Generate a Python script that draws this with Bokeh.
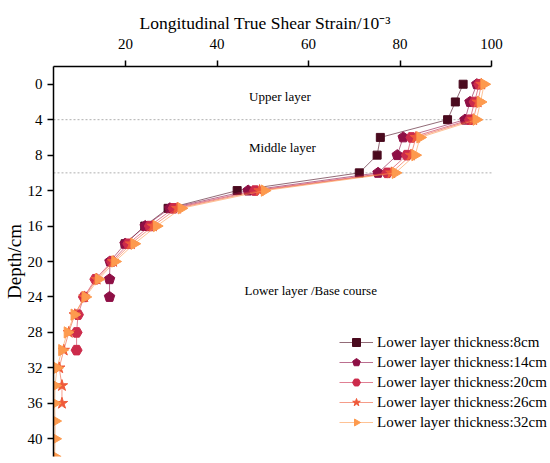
import math
from bokeh.plotting import figure
from bokeh.models import Range1d, FixedTicker, Label, Legend, LegendItem, ColumnDataSource
from bokeh.embed import file_html
from bokeh.resources import INLINE

# ---------------- data ----------------
series_labels = [
    "Lower layer thickness:8cm",
    "Lower layer thickness:14cm",
    "Lower layer thickness:20cm",
    "Lower layer thickness:26cm",
    "Lower layer thickness:32cm",
]
depth_8 = [0, 2, 4, 6, 8, 10, 12, 14, 16, 18]
strain_8 = [93.8, 92.1, 90.4, 75.7, 75.0, 71.1, 44.4, 29.3, 24.2, 19.9]

depth_14 = [0, 2, 4, 6, 8, 10, 12, 14, 16, 18, 20, 22, 24]
strain_14 = [96.8, 95.3, 94.2, 80.7, 79.4, 75.2, 46.8, 29.7, 24.3, 19.9, 16.6, 16.5, 16.5]

depth_20 = [0, 2, 4, 6, 8, 10, 12, 14, 16, 18, 20, 22, 24, 26, 28, 30]
strain_20 = [97.3, 96.3, 95.3, 82.5, 81.5, 77.2, 48.3, 30.5, 25.3, 20.6, 17.0, 13.4, 10.9, 9.6, 9.3, 9.3]

depth_26 = [0, 2, 4, 6, 8, 10, 12, 14, 16, 18, 20, 22, 24, 26, 28, 30, 32, 34, 36]
strain_26 = [97.8, 97.0, 96.0, 83.5, 82.4, 78.1, 49.3, 31.3, 26.0, 21.2, 17.3, 13.7, 11.0,
             8.9, 7.6, 6.5, 5.5, 6.1, 6.1]

depth_32 = [0, 2, 4, 6, 8, 10, 12, 14, 16, 18, 20, 22, 24, 26, 28, 30, 32, 34, 36, 38, 40, 42]
strain_32 = [98.4, 97.6, 96.7, 84.4, 83.3, 79.0, 50.4, 32.2, 26.8, 21.9, 17.7, 14.1, 11.2,
             8.8, 7.3, 6.1, 5.0, 4.6, 4.5, 4.6, 4.6, 4.5]

x_ticks = [20, 40, 60, 80, 100]
y_ticks = [0, 4, 8, 12, 16, 20, 24, 28, 32, 36, 40]
layer_boundaries = [4, 10]
layer_names = ["Upper layer", "Middle layer", "Lower layer /Base course"]

# ---------------- styling ----------------
FONT = "Liberation Serif"
colors = ["#4a0a1e", "#8e0f45", "#cc2b4b", "#ef5a3a", "#fd9a4e"]
X_MIN, X_MAX_AXIS, X_MAX_FRAME = 4.25, 100, 112.9

p = figure(width=550, height=463, output_backend="svg", toolbar_location=None,
           x_axis_location="above",
           x_range=Range1d(X_MIN, X_MAX_FRAME), y_range=Range1d(42, -2),
           min_border_left=52, min_border_right=0, min_border_top=66, min_border_bottom=7)
p.outline_line_color = None
p.grid.visible = False
p.background_fill_color = "white"

# chart title, aligned over the drawn axis (not the whole frame)
p.title.text = "Longitudinal True Shear Strain/10\u207b\u00b3"
p.title.text_font = FONT
p.title.text_font_size = "17.5px"
p.title.text_font_style = "normal"
p.title.text_color = "black"
p.title.align = "left"
p.title.offset = 86
p.title.standoff = 6

for ax in (p.xaxis[0], p.yaxis[0]):
    ax.axis_line_color = "black"
    ax.axis_line_width = 1.5
    ax.major_tick_line_color = "black"
    ax.major_tick_line_width = 1.5
    ax.major_tick_out = 6
    ax.major_tick_in = 0
    ax.minor_tick_line_color = None
    ax.major_label_text_font = FONT
    ax.major_label_text_font_size = "15px"
    ax.major_label_text_color = "black"
    ax.axis_label_text_font = FONT
    ax.axis_label_text_font_style = "normal"
    ax.axis_label_text_color = "black"

p.xaxis[0].ticker = FixedTicker(ticks=x_ticks)
p.xaxis[0].bounds = (X_MIN, X_MAX_AXIS)
p.xaxis[0].major_label_standoff = 12
p.yaxis[0].ticker = FixedTicker(ticks=y_ticks)
p.yaxis[0].axis_label = "Depth/cm"
p.yaxis[0].axis_label_text_font_size = "19px"
p.yaxis[0].axis_label_standoff = 0
p.yaxis[0].major_label_standoff = 5

# layer boundaries (dotted) from the left edge to the end of the axis
p.segment(x0=[X_MIN] * len(layer_boundaries), x1=[X_MAX_AXIS] * len(layer_boundaries),
          y0=layer_boundaries, y1=layer_boundaries,
          line_color="#b0b0b0", line_width=1, line_dash="2 2")

label_x = [47.0, 47.0, 46.0]
label_y = [1.4, 7.1, 23.3]
for name, lx, ly in zip(layer_names, label_x, label_y):
    p.add_layout(Label(x=lx, y=ly, text=name, text_font=FONT, text_font_size="13px",
                       text_baseline="middle", text_align="left", text_color="black"))

series = [
    (depth_8, strain_8),
    (depth_14, strain_14),
    (depth_20, strain_20),
    (depth_26, strain_26),
    (depth_32, strain_32),
]

items = []
for i, (d, s) in enumerate(series):
    src = ColumnDataSource(dict(x=s, y=d))
    c = colors[i]
    ln = p.line("x", "y", source=src, line_color=c, line_width=1, line_alpha=0.6)
    if i == 0:
        mk = p.scatter("x", "y", source=src, marker="square", size=8,
                       fill_color=c, line_color=c)
    elif i == 1:
        mk = p.ngon("x", "y", source=src, radius=5.5, radius_units="screen", n=5,
                    angle=0, fill_color=c, line_color=c)
    elif i == 2:
        mk = p.scatter("x", "y", source=src, marker="hex", size=11,
                       fill_color=c, line_color=c)
    elif i == 3:
        mk = p.scatter("x", "y", source=src, marker="star", size=12,
                       fill_color=c, line_color=c)
    else:
        mk = p.ngon("x", "y", source=src, radius=6.5, radius_units="screen", n=3,
                    angle=-math.pi / 2, fill_color=c, line_color=c)
    items.append(LegendItem(label=series_labels[i], renderers=[ln, mk]))

legend = Legend(items=items, location=(286, 24))
legend.label_text_font = FONT
legend.label_text_font_size = "15px"
legend.label_text_color = "black"
legend.border_line_color = None
legend.background_fill_alpha = 0
legend.padding = 0
legend.margin = 0
legend.spacing = 0
legend.label_height = 20
legend.glyph_height = 20
legend.glyph_width = 34
legend.label_standoff = 4
p.add_layout(legend)

open("out.html", "w").write(file_html(p, INLINE))
